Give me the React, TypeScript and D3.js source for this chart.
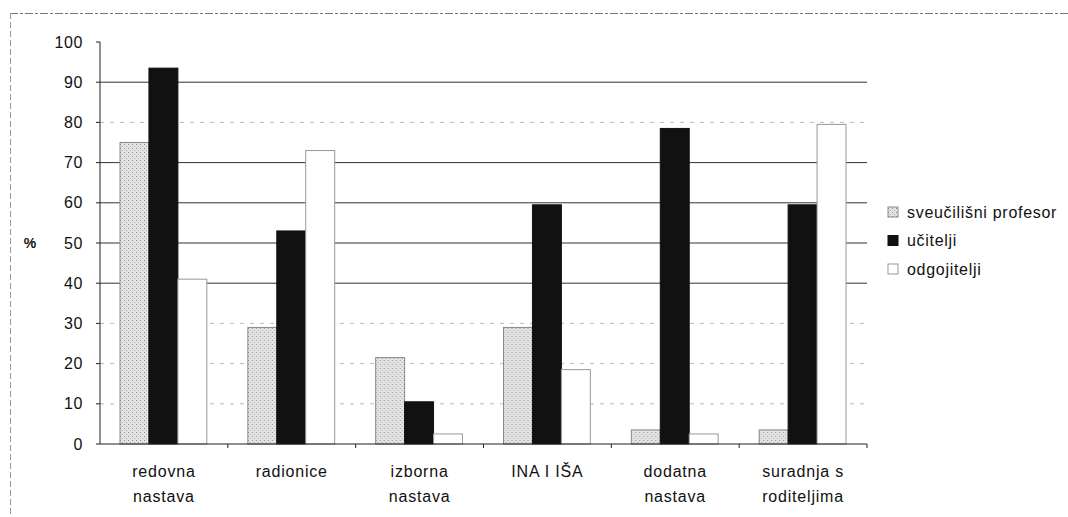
import React from 'react';
import * as d3 from 'd3';

const categories = [
  'redovna nastava',
  'radionice',
  'izborna nastava',
  'INA I IŠA',
  'dodatna nastava',
  'suradnja s roditeljima',
];
const categoryLines = [
  ['redovna', 'nastava'],
  ['radionice'],
  ['izborna', 'nastava'],
  ['INA I IŠA'],
  ['dodatna', 'nastava'],
  ['suradnja s', 'roditeljima'],
];
const seriesNames = ['sveučilišni profesor', 'učitelji', 'odgojitelji'];
const profesor = [75, 29, 21.5, 29, 3.5, 3.5];
const ucitelji = [93.5, 53, 10.5, 59.5, 78.5, 59.5];
const odgojitelji = [41, 73, 2.5, 18.5, 2.5, 79.5];
const yTicks = [0, 10, 20, 30, 40, 50, 60, 70, 80, 90, 100];

const margin = { left: 100, right: 201, top: 42, bottom: 73 };
const W = 1068;
const H = 517;

const fills = ['url(#stipple)', '#111', '#fff'];
const strokes = ['#888', '#111', '#999'];

export default function App() {
  const x0 = d3
    .scaleBand<string>()
    .domain(categories)
    .range([margin.left, W - margin.right]);
  const x1 = d3
    .scaleBand<number>()
    .domain([0, 1, 2])
    .range([20, x0.bandwidth() - 21]);
  const y = d3.scaleLinear().domain([0, 100]).range([H - margin.bottom, margin.top]);
  const series = [profesor, ucitelji, odgojitelji];
  const faint = (t: number) => t === 80 || (t > 0 && t <= 30);

  return (
    <svg
      width={W}
      height={H}
      style={{ position: 'absolute', left: 0, top: 0, fontFamily: 'Liberation Sans, Arial, sans-serif' }}
    >
      <defs>
        <pattern id="stipple" width="4" height="4" patternUnits="userSpaceOnUse">
          <rect width="4" height="4" fill="#e4e4e4" />
          <rect x="0" y="0" width="1" height="1" fill="#8a8a8a" />
          <rect x="2" y="2" width="1" height="1" fill="#a8a8a8" />
        </pattern>
      </defs>
      <rect width={W} height={H} fill="#fff" />
      {/* outer frame */}
      <line x1={10} x2={W} y1={13.5} y2={13.5} stroke="#777" strokeDasharray="8 2 3 2" />
      <line x1={10.5} x2={10.5} y1={13} y2={H} stroke="#999" strokeDasharray="6 3" />

      {/* gridlines */}
      {yTicks.filter((t) => t > 0 && t < 100).map((t) => (
        <line
          key={t}
          x1={margin.left}
          x2={W - margin.right}
          y1={y(t)}
          y2={y(t)}
          stroke={faint(t) ? '#aaa' : '#333'}
          strokeWidth={faint(t) ? 0.8 : 1}
          strokeDasharray={faint(t) ? '4 6' : undefined}
        />
      ))}

      {/* bars */}
      {categories.map((c, i) => (
        <g key={c} transform={`translate(${x0(c)},0)`}>
          {series.map((s, k) => (
            <rect
              key={k}
              x={x1(k)}
              y={y(s[i])}
              width={x1.bandwidth()}
              height={y(0) - y(s[i])}
              fill={fills[k]}
              stroke={strokes[k]}
              strokeWidth={1}
            />
          ))}
        </g>
      ))}

      {/* y axis */}
      <line x1={margin.left} x2={margin.left} y1={y(100)} y2={y(0)} stroke="#222" />
      {yTicks.map((t) => (
        <g key={t} transform={`translate(0,${y(t)})`}>
          <line x1={margin.left - 4} x2={margin.left} stroke="#222" />
          <text x={margin.left - 17} dy="0.35em" textAnchor="end" fontSize={16} letterSpacing={0.6} fill="#111">
            {t}
          </text>
        </g>
      ))}
      <text x={30} y={y(50)} dy="0.35em" textAnchor="middle" fontSize={14} fontWeight="bold" fill="#111">
        %
      </text>

      {/* x axis */}
      <line x1={margin.left} x2={W - margin.right} y1={y(0)} y2={y(0)} stroke="#222" />
      {categories.map((c, i) => (
        <g key={c}>
          <line x1={x0(c)! + x0.bandwidth()} x2={x0(c)! + x0.bandwidth()} y1={y(0)} y2={y(0) + 4} stroke="#222" />
          <text
            x={x0(c)! + x0.bandwidth() / 2}
            y={y(0) + 33}
            textAnchor="middle"
            fontSize={16}
            letterSpacing={0.8}
            fill="#111"
          >
            {categoryLines[i].map((ln, j) => (
              <tspan key={j} x={x0(c)! + x0.bandwidth() / 2} dy={j === 0 ? 0 : 25}>
                {ln}
              </tspan>
            ))}
          </text>
        </g>
      ))}

      {/* legend */}
      {seriesNames.map((n, k) => (
        <g key={n} transform={`translate(888,${212 + k * 28.5})`}>
          <rect x={0} y={-5} width={10} height={10} fill={fills[k]} stroke={strokes[k]} />
          <text x={19} dy="0.35em" fontSize={16} letterSpacing={0.7} fill="#111">
            {n}
          </text>
        </g>
      ))}
    </svg>
  );
}
